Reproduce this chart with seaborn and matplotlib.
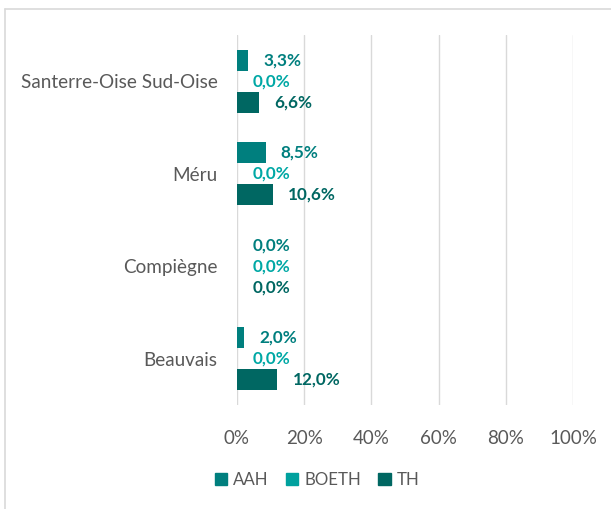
import matplotlib
matplotlib.use("Agg")
import matplotlib.pyplot as plt
import matplotlib.lines as mlines
from matplotlib.ticker import FuncFormatter
import seaborn as sns
import pandas as pd

# Data
sites = ["Santerre-Oise Sud-Oise", "Méru", "Compiègne", "Beauvais"]
series = ["AAH", "BOETH", "TH"]
aah = [3.3, 8.5, 0.0, 2.0]
boeth = [0.0, 0.0, 0.0, 0.0]
th = [6.6, 10.6, 0.0, 12.0]
x_ticks = [0, 20, 40, 60, 80, 100]

colors = {"AAH": "#007F7E", "BOETH": "#00A19E", "TH": "#006762"}
label_colors = {"AAH": "#007F7E", "BOETH": "#00A8A5", "TH": "#006762"}
text_gray = "#595959"
grid_gray = "#D9D9D9"

rows = []
for name, vals in zip(series, [aah, boeth, th]):
    for s, v in zip(sites, vals):
        rows.append({"site": s, "serie": name, "value": v})
df = pd.DataFrame(rows)

sns.set_theme(style="white")
plt.rcParams["font.family"] = ["Lato", "DejaVu Sans"]

fig = plt.figure(figsize=(6.11, 5.09), dpi=100)
ax = fig.add_axes([237 / 611, 1 - 405 / 509, (573 - 237) / 611, 370 / 509])

sns.barplot(data=df, y="site", x="value", hue="serie", order=sites,
            hue_order=series, palette=colors, orient="h", width=0.68,
            ax=ax, saturation=1, legend=True, edgecolor="none")

ax.set_xlim(0, 100)
ax.set_xticks(x_ticks)
ax.xaxis.set_major_formatter(FuncFormatter(lambda v, p: f"{v:.0f}%"))
ax.set_xlabel("")
ax.set_ylabel("")
ax.grid(axis="x", color=grid_gray, linewidth=1)
ax.set_axisbelow(True)
for sp in ax.spines.values():
    sp.set_visible(False)
ax.tick_params(axis="x", colors=text_gray, labelsize=13.5, length=0, pad=18)
ax.tick_params(axis="y", colors=text_gray, labelsize=13.6, length=0, pad=14)

# Value labels next to each bar
for container, name in zip(ax.containers, series):
    labels = [f"{v:.1f}%".replace(".", ",") for v in container.datavalues]
    ax.bar_label(container, labels=labels, padding=11, color=label_colors[name],
                 fontsize=12.3, fontweight="bold")

# Legend below the plot
handles = [plt.Rectangle((0, 0), 1, 1, color=colors[s]) for s in series]
ax.get_legend().remove()
fig.legend(handles, series, loc="center", bbox_to_anchor=(317 / 611, 1 - 480 / 509),
           ncol=3, frameon=False, fontsize=12.2, labelcolor=text_gray,
           handlelength=0.75, handleheight=0.75, handletextpad=0.35, columnspacing=1.0)

# Chart frame
fig.add_artist(mlines.Line2D([5 / 611, 5 / 611], [0, 1 - 9 / 509], color=grid_gray,
                             linewidth=1.2, transform=fig.transFigure))
fig.add_artist(mlines.Line2D([5 / 611, 1], [1 - 9 / 509, 1 - 9 / 509], color=grid_gray,
                             linewidth=1.2, transform=fig.transFigure))

fig.savefig("out.png", dpi=100)
